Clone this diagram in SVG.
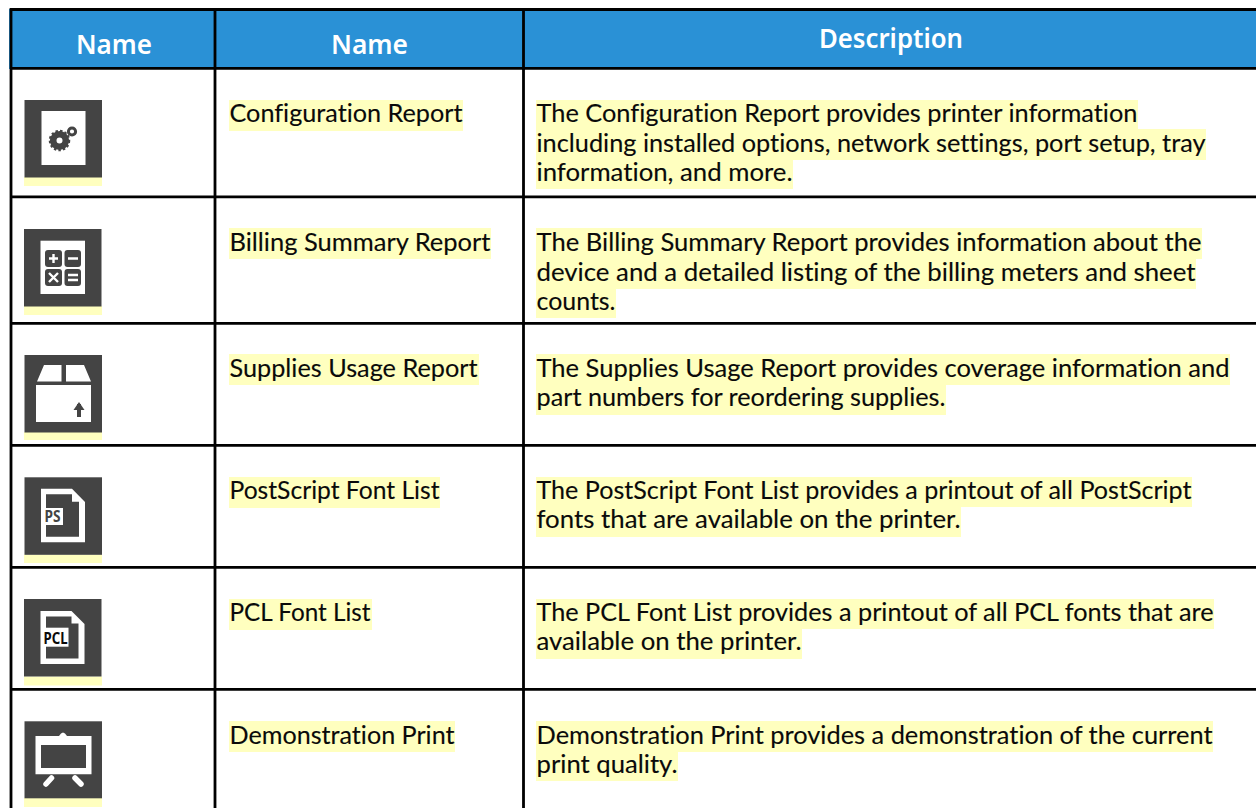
<svg xmlns="http://www.w3.org/2000/svg" width="1256" height="808" viewBox="0 0 1256 808">
<style>
text{font-family:"Lato","Noto Sans","Liberation Sans",sans-serif;font-size:24.500px;font-variant-ligatures:none;fill:#0a0a0a;stroke:#0a0a0a;stroke-width:.12px}
.h{font-family:"Noto Sans","Liberation Sans",sans-serif;font-size:27px;font-weight:600;fill:#fff;stroke:none;text-anchor:middle}
.t{font-family:"Noto Sans","Liberation Sans",sans-serif;font-size:16px;font-weight:700;stroke:none}
.m{fill:#ffffbf}
.i{fill:#444}
.w{fill:#fff}
.g{stroke:#000;stroke-width:2.800;fill:none}
</style>
<rect width="1256" height="808" fill="#fff"/>
<g id="header"><rect x="9" y="9" width="1247" height="60" fill="#2a91d6"/>
<text class="h" x="114" y="54" textLength="76" lengthAdjust="spacingAndGlyphs">Name</text>
<text class="h" x="369.500" y="54" textLength="77" lengthAdjust="spacingAndGlyphs">Name</text>
<text class="h" x="891" y="48" textLength="144" lengthAdjust="spacingAndGlyphs">Description</text></g>
<g id="row1">
<rect class="m" x="24" y="177" width="78" height="9"/><rect class="i" x="24.500" y="100" width="77.500" height="77.500"/><rect class="w" x="41.500" y="111" width="44" height="54"/>
<circle cx="59.500" cy="140.500" r="6.300" fill="none" stroke="#444" stroke-width="6.600"/><circle cx="59.500" cy="140.500" r="9.500" fill="none" stroke="#444" stroke-width="2.500" stroke-dasharray="2.400 2.100"/><circle cx="72" cy="131.500" r="3.600" fill="none" stroke="#444" stroke-width="3"/>
<rect class="m" x="229" y="100" width="234" height="31"/><text x="229.500" y="122" textLength="233" lengthAdjust="spacingAndGlyphs">Configuration Report</text>
<rect class="m" x="536" y="100" width="602" height="30"/><rect class="m" x="536" y="129" width="670" height="31"/><rect class="m" x="536" y="160" width="257" height="29"/>
<text><tspan x="536.500" y="122" textLength="601" lengthAdjust="spacingAndGlyphs">The Configuration Report provides printer information</tspan><tspan x="536.500" y="152" textLength="669" lengthAdjust="spacingAndGlyphs">including installed options, network settings, port setup, tray</tspan><tspan x="536.500" y="181" textLength="256" lengthAdjust="spacingAndGlyphs">information, and more.</tspan></text></g>
<g id="row2">
<rect class="m" x="24" y="306" width="78" height="9"/><rect class="i" x="24" y="229" width="77.500" height="77.500"/><rect class="w" x="40.500" y="240.700" width="44.500" height="53.300"/>
<g fill="#444"><rect x="45" y="250" width="17" height="17" rx="3"/><rect x="64.500" y="250" width="16.500" height="17" rx="3"/><rect x="45" y="269" width="17" height="17" rx="3"/><rect x="64.500" y="269" width="16.500" height="17" rx="3"/></g>
<path d="M49 258.500h9M53.500 254v9M68 258.500h10M49 273l9 9M58 273l-9 9M68 275h10M68 280h10" stroke="#fff" stroke-width="2.400" fill="none"/>
<rect class="m" x="229" y="228" width="262" height="31"/><text x="229.500" y="251" textLength="261" lengthAdjust="spacingAndGlyphs">Billing Summary Report</text>
<rect class="m" x="536" y="228" width="666" height="31"/><rect class="m" x="536" y="259" width="660" height="30"/><rect class="m" x="536" y="289" width="80" height="29"/>
<text><tspan x="536.500" y="251" textLength="665" lengthAdjust="spacingAndGlyphs">The Billing Summary Report provides information about the</tspan><tspan x="536.500" y="281" textLength="659" lengthAdjust="spacingAndGlyphs">device and a detailed listing of the billing meters and sheet</tspan><tspan x="536.500" y="310" textLength="79" lengthAdjust="spacingAndGlyphs">counts.</tspan></text></g>
<g id="row3">
<rect class="m" x="24" y="432" width="78" height="8"/><rect class="i" x="24.500" y="355" width="77.500" height="77.500"/>
<path class="w" d="M44 365H61.500V381.500H37ZM66 365H84L91 381.500H66ZM36 385H91V422H36Z"/><path d="M79 417V404" stroke="#444" stroke-width="4" fill="none"/><path d="M79 402L84.500 410H73.500Z" fill="#444"/>
<rect class="m" x="229" y="354" width="250" height="31"/><text x="229.500" y="377" textLength="248" lengthAdjust="spacingAndGlyphs">Supplies Usage Report</text>
<rect class="m" x="536" y="354" width="694" height="31"/><rect class="m" x="536" y="385" width="410" height="30"/>
<text><tspan x="536.500" y="377" textLength="693" lengthAdjust="spacingAndGlyphs">The Supplies Usage Report provides coverage information and</tspan><tspan x="536.500" y="406" textLength="409" lengthAdjust="spacingAndGlyphs">part numbers for reordering supplies.</tspan></text></g>
<g id="row4">
<rect class="m" x="24" y="554.500" width="78" height="8.500"/><rect class="i" x="24.500" y="477.300" width="77.500" height="77.500"/>
<path class="w" d="M41 488.700H72L85 502V542.300H41Z"/><path class="i" d="M46 494.300H72V501.700H79V536.700H46Z"/><rect class="w" x="44" y="508" width="19" height="17"/>
<text class="t" x="44.500" y="522" textLength="16" lengthAdjust="spacingAndGlyphs" style="fill:#444">PS</text>
<rect class="m" x="229" y="477" width="211" height="31"/><text x="229.500" y="499" textLength="210" lengthAdjust="spacingAndGlyphs">PostScript Font List</text>
<rect class="m" x="536" y="477" width="656" height="30"/><rect class="m" x="536" y="507" width="425" height="30"/>
<text><tspan x="536.500" y="499" textLength="655" lengthAdjust="spacingAndGlyphs">The PostScript Font List provides a printout of all PostScript</tspan><tspan x="536.500" y="528" textLength="424" lengthAdjust="spacingAndGlyphs">fonts that are available on the printer.</tspan></text></g>
<g id="row5">
<rect class="m" x="24" y="676.500" width="78" height="9"/><rect class="i" x="24" y="599" width="77.500" height="77.500"/>
<path class="w" d="M40.500 611H71.500L84.500 624V664H40.500Z"/><path class="i" d="M46 616.500H71.500V623.500H78.500V658.500H46Z"/><rect class="w" x="44" y="627.700" width="24.500" height="19"/>
<text class="t" x="43.500" y="644" textLength="24" lengthAdjust="spacingAndGlyphs">PCL</text>
<rect class="m" x="229" y="599" width="143" height="31"/><text x="229.500" y="621" textLength="141" lengthAdjust="spacingAndGlyphs">PCL Font List</text>
<rect class="m" x="536" y="599" width="678" height="30"/><rect class="m" x="536" y="629" width="266" height="30"/>
<text><tspan x="536.500" y="621" textLength="677" lengthAdjust="spacingAndGlyphs">The PCL Font List provides a printout of all PCL fonts that are</tspan><tspan x="536.500" y="650" textLength="265" lengthAdjust="spacingAndGlyphs">available on the printer.</tspan></text></g>
<g id="row6">
<rect class="m" x="24" y="798" width="78" height="9"/><rect class="i" x="24.500" y="721.300" width="77.500" height="77"/>
<path class="w" d="M35.500 736H59Q63 729 67 736H91.500V774.300H35.500Z"/><rect class="i" x="41" y="745" width="45" height="23"/>
<path d="M51.500 778L46 784M75 778L81 784" stroke="#fff" stroke-width="5.500" stroke-linecap="round"/>
<rect class="m" x="229" y="721" width="226" height="31"/><text x="229.500" y="744" textLength="225" lengthAdjust="spacingAndGlyphs">Demonstration Print</text>
<rect class="m" x="536" y="721" width="677" height="31"/><rect class="m" x="536" y="752" width="142" height="29"/>
<text><tspan x="536.500" y="744" textLength="676" lengthAdjust="spacingAndGlyphs">Demonstration Print provides a demonstration of the current</tspan><tspan x="536.500" y="773" textLength="141" lengthAdjust="spacingAndGlyphs">print quality.</tspan></text></g>
<g id="connectors"><path class="g" d="M11 808V9.500H1256M10 68.300H1256M10 196.800H1256M10 323.300H1256M10 445.300H1256M10 567.300H1256M10 689.300H1256M215 9V808M523.500 9V808"/></g>
</svg>
